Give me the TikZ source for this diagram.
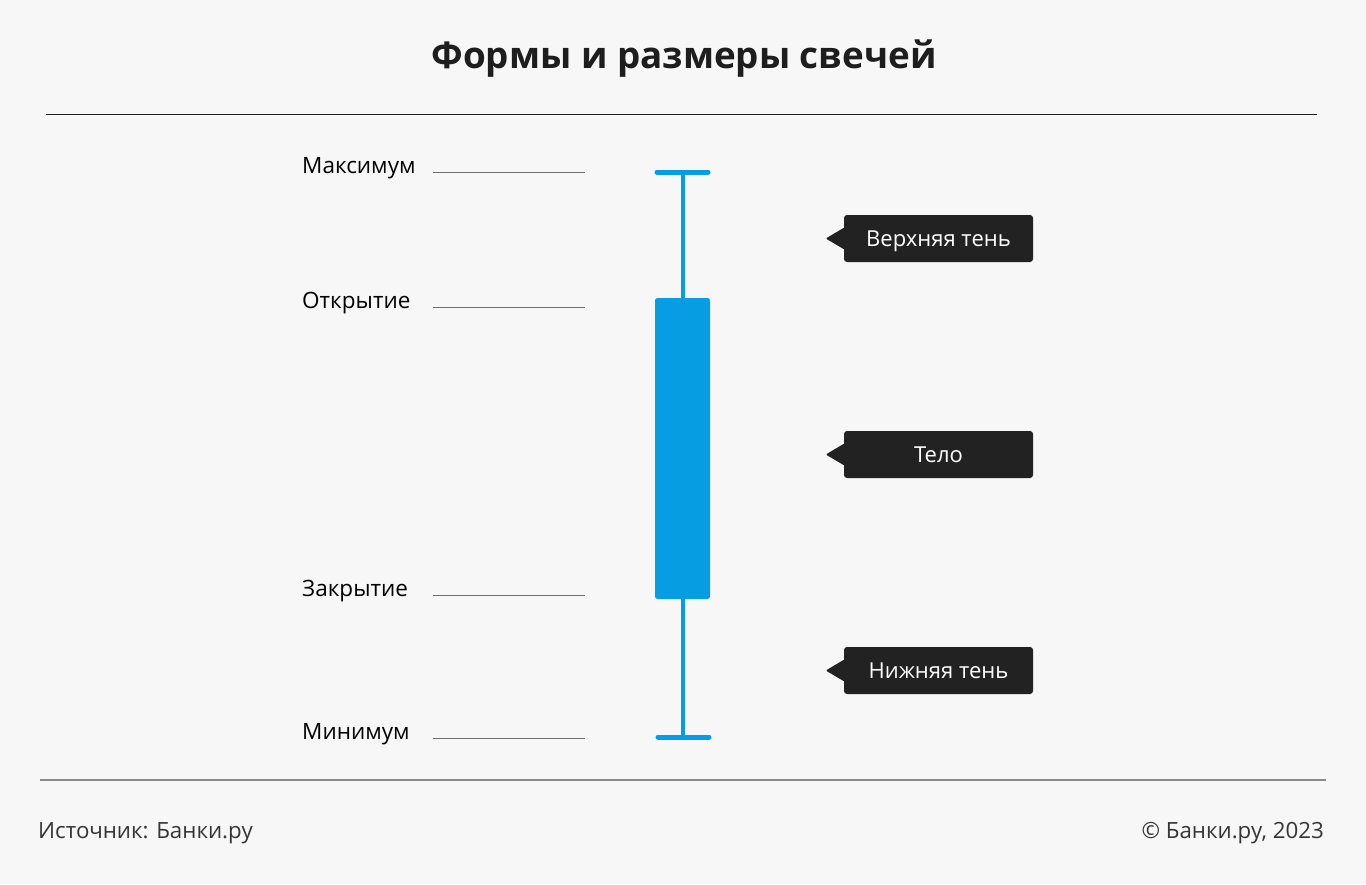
\documentclass[tikz,border=0pt]{standalone}
\usepackage{fontspec}
\setmainfont{Open Sans}
\usetikzlibrary{calc}
\definecolor{bg}{HTML}{F7F7F7}
\definecolor{candle}{HTML}{069DE3}
\definecolor{callbg}{HTML}{222222}
\definecolor{ink}{HTML}{1E1E1E}
\definecolor{leader}{HTML}{707070}
\definecolor{footline}{HTML}{8A8A8A}
\tikzset{
  lbl/.style={anchor=base west, inner sep=0pt, text=black, font=\fontsize{22.5}{26}\selectfont},
  leaderline/.style={draw=leader, line width=0.8pt},
  callout/.style={fill=callbg, rounded corners=3pt, minimum width=189pt, minimum height=47pt, inner sep=0pt, text=white, text height=15.5pt, text depth=0pt, font=\fontsize{22}{26}\selectfont},
  wick/.style={draw=candle, line width=4pt},
  capline/.style={draw=candle, line width=5pt, line cap=round},
  foot/.style={inner sep=0pt, text=ink!90, font=\fontsize{22.3}{26}\selectfont}
}
\begin{document}
\begin{tikzpicture}[x=1pt,y=-1pt]
\fill[bg] (0,0) rectangle (1366,884);
\useasboundingbox (0,0) rectangle (1366,884);
% title
\node[inner sep=0pt, anchor=base, text=ink, font=\fontsize{36.8}{42}\selectfont\bfseries] (title) at (684,68) {Формы и размеры свечей};
\coordinate (tl1) at (46,114.5); \coordinate (tl2) at (1317,114.5);
\draw[ink, line width=1pt] (tl1) -- (tl2);
% labels
\node[lbl] (max) at (302,173) {Максимум};
\node[lbl] (open) at (302,308) {Открытие};
\node[lbl] (close) at (302,596) {Закрытие};
\node[lbl] (min) at (302,739) {Минимум};
\coordinate (maxa) at (433,172.5); \coordinate (maxb) at (585,172.5);
\coordinate (opena) at (433,307.5); \coordinate (openb) at (585,307.5);
\coordinate (closea) at (433,595.5); \coordinate (closeb) at (585,595.5);
\coordinate (mina) at (433,738.5); \coordinate (minb) at (585,738.5);
\draw[leaderline] (maxa) -- (maxb);
\draw[leaderline] (opena) -- (openb);
\draw[leaderline] (closea) -- (closeb);
\draw[leaderline] (mina) -- (minb);
% candle
\node[fill=candle, rounded corners=2.5pt, minimum width=55pt, minimum height=301pt, inner sep=0pt] (body) at (682.5,448.5) {};
\coordinate (top) at (682.5,172); \coordinate (bot) at (682.5,737);
\coordinate (topl) at (657,172); \coordinate (topr) at (708,172);
\coordinate (botl) at (658,737); \coordinate (botr) at (709,737);
\draw[wick] (top) -- (body.north);
\draw[wick] (body.south) -- (bot);
\draw[capline] (topl) -- (topr);
\draw[capline] (botl) -- (botr);
% callouts
\node[callout] (upper) at (938.5,238.5) {Верхняя тень};
\node[callout] (bodyc) at (938.5,454.5) {Тело};
\node[callout] (lower) at (938.5,670.5) {Нижняя тень};
\foreach \n in {upper,bodyc,lower}{
  \fill[callbg, rounded corners=1pt] ($(\n.west)+(0.5,-11)$) -- ($(\n.west)+(-18,0)$) -- ($(\n.west)+(0.5,11)$) -- cycle;
}
% footer
\coordinate (fl1) at (40,780); \coordinate (fl2) at (1326,780);
\draw[footline, line width=2pt] (fl1) -- (fl2);
\node[foot, anchor=base west] (src) at (38,838) {Источник: Банки.ру};
\node[foot, anchor=base east] (copy) at (1324,838) {© Банки.ру, 2023};
\end{tikzpicture}
\end{document}
